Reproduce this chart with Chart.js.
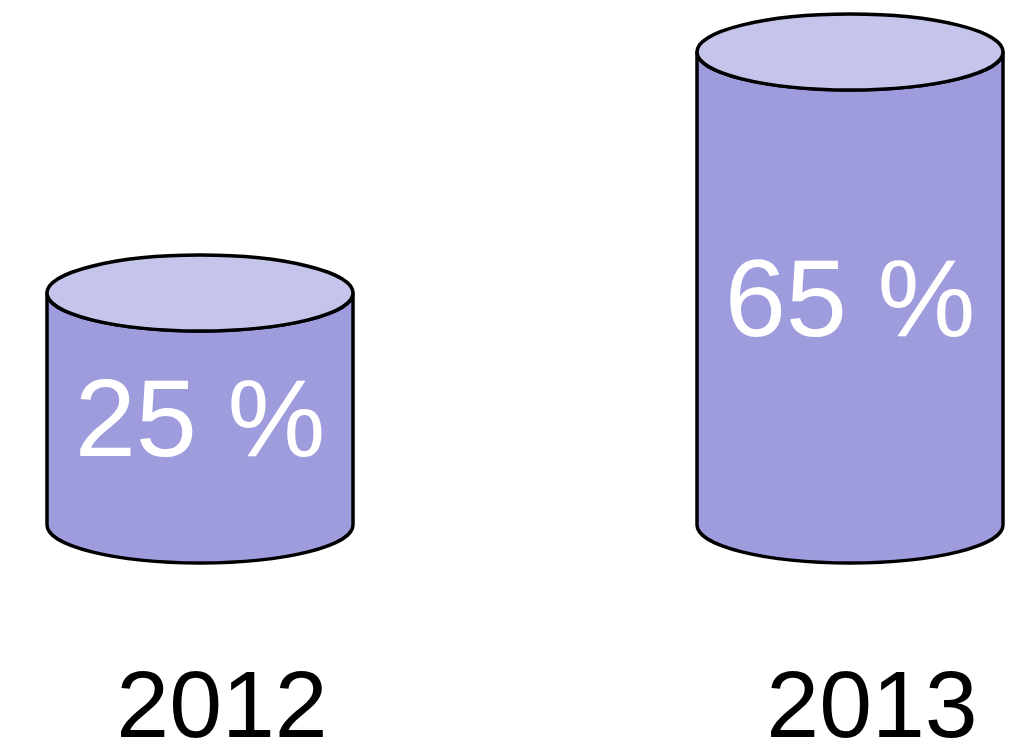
<!DOCTYPE html>
<html>
<head>
<meta charset="utf-8">
<script src="https://cdn.jsdelivr.net/npm/chart.js@4/dist/chart.umd.min.js"></script>
<style>
  html, body { margin: 0; padding: 0; background: #ffffff; }
  #wrap { width: 1015px; height: 753px; }
</style>
</head>
<body>
<div id="wrap"><canvas id="cylChart"></canvas></div>
<script>
// data
const years = ['2012', '2013'];
const shares = [25, 65];
const valueLabels = ['25 %', '65 %'];

const bodyColor = '#9e9cdd';
const topColor = '#c5c5ec';

// draws each bar as a cylinder, using the bar element's position from the scales
const cylinderPlugin = {
    id: 'cylinders',
    afterDatasetsDraw(chart) {
        const ctx = chart.ctx;
        const yScale = chart.scales.y;
        const base = yScale.getPixelForValue(yScale.min);
        const meta = chart.getDatasetMeta(0);

        meta.data.forEach(function (bar, i) {
            const cx = bar.x;
            const top = bar.y;
            const rx = bar.width / 2;
            const ry = bar.width * 0.124;

            ctx.save();
            ctx.lineWidth = 3.5;
            ctx.strokeStyle = '#000000';
            ctx.lineJoin = 'round';

            // side of the cylinder
            ctx.beginPath();
            ctx.moveTo(cx - rx, top);
            ctx.lineTo(cx - rx, base);
            ctx.ellipse(cx, base, rx, ry, 0, Math.PI, 0, true);
            ctx.lineTo(cx + rx, top);
            ctx.ellipse(cx, top, rx, ry, 0, 0, Math.PI, false);
            ctx.closePath();
            ctx.fillStyle = bodyColor;
            ctx.fill();
            ctx.stroke();

            // lid
            ctx.beginPath();
            ctx.ellipse(cx, top, rx, ry, 0, 0, Math.PI * 2);
            ctx.fillStyle = topColor;
            ctx.fill();
            ctx.stroke();

            // value text
            ctx.fillStyle = '#ffffff';
            ctx.font = '110px "Liberation Sans", Arial, sans-serif';
            ctx.textAlign = 'center';
            ctx.textBaseline = 'middle';
            ctx.fillText(valueLabels[i], cx, (top + base) / 2 + 17);
            ctx.restore();
        });
    }
};

new Chart(document.getElementById('cylChart'), {
    type: 'bar',
    data: {
        labels: years,
        datasets: [{
            data: shares,
            backgroundColor: 'rgba(0,0,0,0)',
            borderWidth: 0,
            barThickness: 306
        }]
    },
    options: {
        responsive: true,
        maintainAspectRatio: false,
        animation: false,
        layout: {
            padding: { left: 200, right: 165, top: 52, bottom: 0 }
        },
        plugins: {
            legend: { display: false },
            tooltip: { enabled: false }
        },
        scales: {
            x: {
                offset: false,
                grid: { display: false, drawTicks: false },
                border: { display: false },
                ticks: {
                    color: '#000000',
                    padding: 141,
                    labelOffset: 22,
                    maxRotation: 0,
                    autoSkip: false,
                    font: { family: '"Liberation Sans", Arial, sans-serif', size: 95, lineHeight: 0.95 }
                },
                // the big label gap would otherwise eat the side margins and half the height
                afterFit(scale) {
                    scale.height = 228;
                    scale.paddingLeft = 0;
                    scale.paddingRight = 0;
                }
            },
            y: {
                display: false,
                min: -13.5,
                max: 65
            }
        }
    },
    plugins: [cylinderPlugin]
});
</script>
</body>
</html>
